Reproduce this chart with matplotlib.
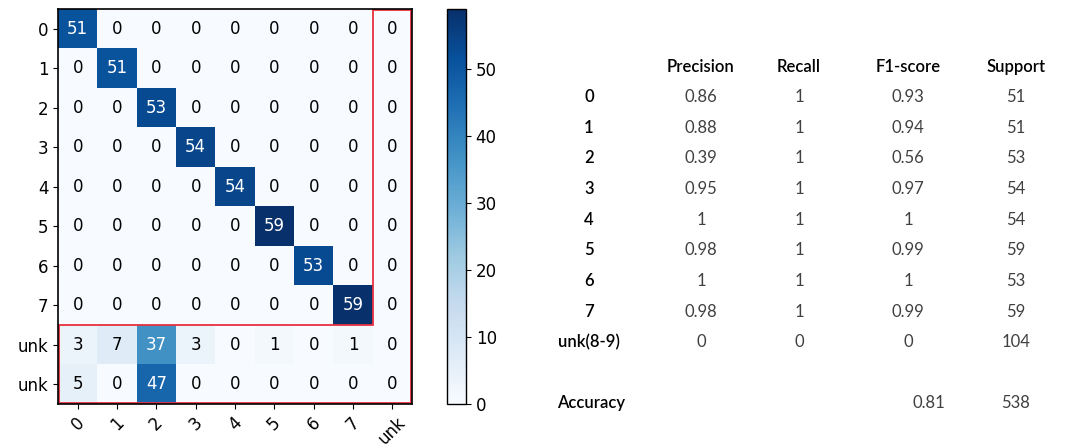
import numpy as np
import matplotlib
matplotlib.use('Agg')
import matplotlib.pyplot as plt
from matplotlib.patches import Polygon

# confusion matrix (rows: true, cols: predicted)
cm = np.array([
    [51, 0, 0, 0, 0, 0, 0, 0, 0],
    [0, 51, 0, 0, 0, 0, 0, 0, 0],
    [0, 0, 53, 0, 0, 0, 0, 0, 0],
    [0, 0, 0, 54, 0, 0, 0, 0, 0],
    [0, 0, 0, 0, 54, 0, 0, 0, 0],
    [0, 0, 0, 0, 0, 59, 0, 0, 0],
    [0, 0, 0, 0, 0, 0, 53, 0, 0],
    [0, 0, 0, 0, 0, 0, 0, 59, 0],
    [3, 7, 37, 3, 0, 1, 0, 1, 0],
    [5, 0, 47, 0, 0, 0, 0, 0, 0],
])
row_labels = ['0', '1', '2', '3', '4', '5', '6', '7', 'unk', 'unk']
col_labels = ['0', '1', '2', '3', '4', '5', '6', '7', 'unk']

# classification report
classes = ['0', '1', '2', '3', '4', '5', '6', '7', 'unk(8-9)']
precision = ['0.86', '0.88', '0.39', '0.95', '1', '0.98', '1', '0.98', '0']
recall = ['1', '1', '1', '1', '1', '1', '1', '1', '0']
f1 = ['0.93', '0.94', '0.56', '0.97', '1', '0.99', '1', '0.99', '0']
support = ['51', '51', '53', '54', '54', '59', '53', '59', '104']
headers = ['Precision', 'Recall', 'F1-score', 'Support']
accuracy = '0.81'
total = '538'

W, H = 1065, 445
fig = plt.figure(figsize=(W / 100, H / 100), dpi=100)

def fx(px):
    return px / W

def fy(py):
    return 1 - py / H

ax = fig.add_axes([fx(58), fy(404), fx(412) - fx(58), fy(9) - fy(404)])
cax = fig.add_axes([fx(447), fy(404), fx(466) - fx(447), fy(9) - fy(404)])

im = ax.imshow(cm, cmap='Blues', vmin=0, vmax=cm.max(), interpolation='nearest', aspect='auto')
cb = fig.colorbar(im, cax=cax)
cb.set_ticks([0, 10, 20, 30, 40, 50])
cb.ax.tick_params(labelsize=12)
cb.outline.set_linewidth(1.0)

thresh = cm.max() / 2
for i in range(cm.shape[0]):
    for j in range(cm.shape[1]):
        ax.text(j, i, str(cm[i, j]), ha='center', va='center', fontsize=12,
                color='white' if cm[i, j] > thresh else 'black')

ax.set_xticks(range(len(col_labels)))
ax.set_xticklabels(col_labels, rotation=45, fontsize=12)
ax.set_yticks(range(len(row_labels)))
ax.set_yticklabels(row_labels, fontsize=12)
for s in ax.spines.values():
    s.set_linewidth(1.2)

# red outline around the unknown row/column
n_r, n_c = cm.shape
outline = Polygon([(n_c - 1.5, -0.48), (n_c - 0.52, -0.48), (n_c - 0.52, n_r - 0.52),
                   (-0.48, n_r - 0.52), (-0.48, n_r - 2.5), (n_c - 1.5, n_r - 2.5)],
                  closed=True, fill=False, edgecolor='#e8303f', linewidth=1.3)
ax.add_patch(outline)

# table on the right
font = 'Lato'
col_x = [701, 799, 908, 1016]
for x, h in zip(col_x, headers):
    fig.text(fx(x), fy(67), h, ha='center', va='center', fontsize=12,
             family=font, weight='semibold', color='black')

row_y = [97, 128, 158, 189, 220, 250, 281, 312, 342]
for k, y in enumerate(row_y):
    fig.text(fx(589), fy(y), classes[k], ha='center', va='center', fontsize=12,
             family=font, weight='semibold', color='black')
    for x, vals in zip(col_x, [precision, recall, f1, support]):
        fig.text(fx(x), fy(y), vals[k], ha='center', va='center', fontsize=12,
                 family=font, color='#404040')

fig.text(fx(557), fy(403), 'Accuracy', ha='left', va='center', fontsize=12,
         family=font, weight='semibold', color='black')
fig.text(fx(929), fy(403), accuracy, ha='center', va='center', fontsize=12,
         family=font, color='#404040')
fig.text(fx(1016), fy(403), total, ha='center', va='center', fontsize=12,
         family=font, color='#404040')

fig.savefig('out.png', dpi=100)
